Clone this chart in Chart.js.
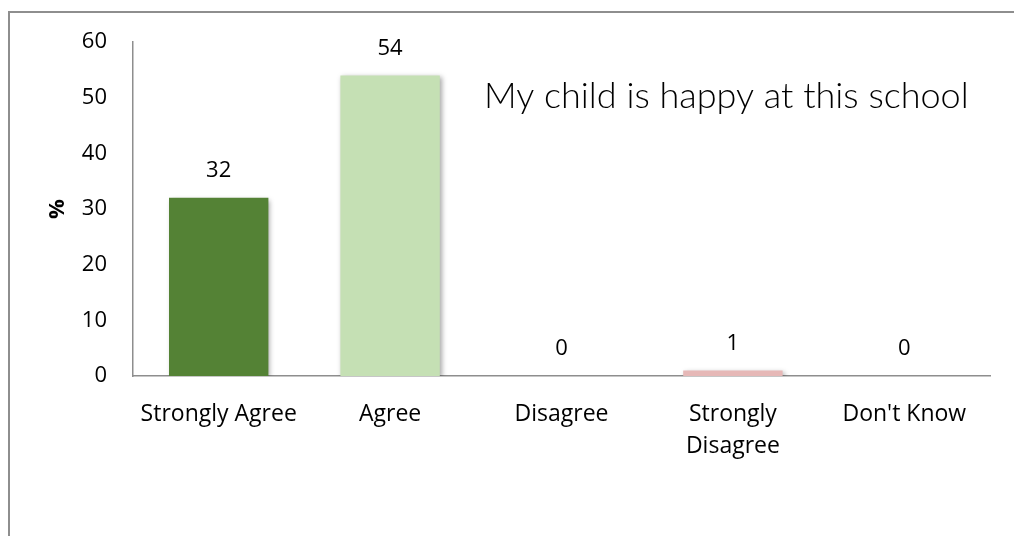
<!DOCTYPE html>
<html>
<head>
<meta charset="utf-8">
<script src="https://cdn.jsdelivr.net/npm/chart.js@4.4.1/dist/chart.umd.min.js"></script>
<style>
    html, body { margin: 0; padding: 0; background: #fff; overflow: hidden; }
    #wrap { position: relative; width: 1014px; height: 536px; }
    #frame { position: absolute; left: 8px; top: 11px; width: 1100px; height: 600px; border: 2px solid #8e8e8e; box-sizing: border-box; }
    canvas { position: absolute; left: 0; top: 0; }
</style>
</head>
<body>
<div id="wrap">
    <div id="frame"></div>
    <canvas id="chart" width="1014" height="536"></canvas>
</div>
<script>
// chart data
let categories = [["Strongly Agree"], ["Agree"], ["Disagree"], ["Strongly", "Disagree"], ["Don't Know"]];
let percents = [32, 54, 0, 1, 0];
let bar_colors = ["#548235", "#c5e0b4", "#c5e0b4", "#e6b8b7", "#e6b8b7"];
let y_ticks = [0, 10, 20, 30, 40, 50, 60];
let chart_title = "My child is happy at this school";

let font_family = "'Open Sans', 'Noto Sans', sans-serif";

// soft shadow under the bars, like the office chart
let barShadow = {
    id: "barShadow",
    beforeDatasetsDraw: function(chart) {
        let ctx = chart.ctx;
        ctx.save();
        ctx.shadowColor = "rgba(0,0,0,0.35)";
        ctx.shadowBlur = 5;
        ctx.shadowOffsetX = 2;
        ctx.shadowOffsetY = 2;
    },
    afterDatasetsDraw: function(chart) {
        chart.ctx.restore();
    }
};

// value labels above bars and the title inside the plot
let valueLabels = {
    id: "valueLabels",
    afterDraw: function(chart) {
        let ctx = chart.ctx;
        let meta = chart.getDatasetMeta(0);
        ctx.save();
        ctx.fillStyle = "#000";
        ctx.font = "22px " + font_family;
        ctx.textAlign = "center";
        ctx.textBaseline = "middle";
        meta.data.forEach(function(bar, i) {
            ctx.fillText(String(percents[i]), bar.x, bar.y - 27);
        });
        ctx.font = "300 36px Lato, 'Open Sans', sans-serif";
        ctx.textAlign = "left";
        ctx.textBaseline = "alphabetic";
        ctx.fillText(chart_title, 484, 108);
        ctx.restore();
    }
};

let ctx = document.getElementById("chart").getContext("2d");
let chart = new Chart(ctx, {
    type: "bar",
    data: {
        labels: categories,
        datasets: [{
            data: percents,
            backgroundColor: bar_colors,
            borderWidth: 0,
            barPercentage: 0.58,
            categoryPercentage: 1
        }]
    },
    options: {
        responsive: false,
        animation: false,
        events: [],
        layout: {
            padding: { left: 0, top: 42, right: 24, bottom: 0 }
        },
        plugins: {
            legend: { display: false },
            tooltip: { enabled: false },
            title: { display: false }
        },
        scales: {
            x: {
                grid: { display: false },
                border: { display: true, color: "#8e8e8e", width: 1.5 },
                ticks: {
                    color: "#000",
                    padding: 14,
                    maxRotation: 0,
                    autoSkip: false,
                    font: { family: font_family, size: 23, lineHeight: 32 / 23 }
                },
                afterFit: function(scale) {
                    scale.height = 160;
                }
            },
            y: {
                min: 0,
                max: 60,
                afterBuildTicks: function(scale) {
                    scale.ticks = y_ticks.map(function(v) { return { value: v }; });
                },
                grid: { display: false },
                border: { display: true, color: "#8e8e8e", width: 1.5 },
                ticks: {
                    color: "#000",
                    padding: 18,
                    font: { family: font_family, size: 22 }
                },
                title: {
                    display: true,
                    text: "%",
                    color: "#000",
                    padding: { top: 45, bottom: 0 },
                    font: { family: font_family, size: 22, weight: "bold" }
                },
                afterFit: function(scale) {
                    scale.width = 133;
                }
            }
        }
    },
    plugins: [barShadow, valueLabels]
});
</script>
</body>
</html>
